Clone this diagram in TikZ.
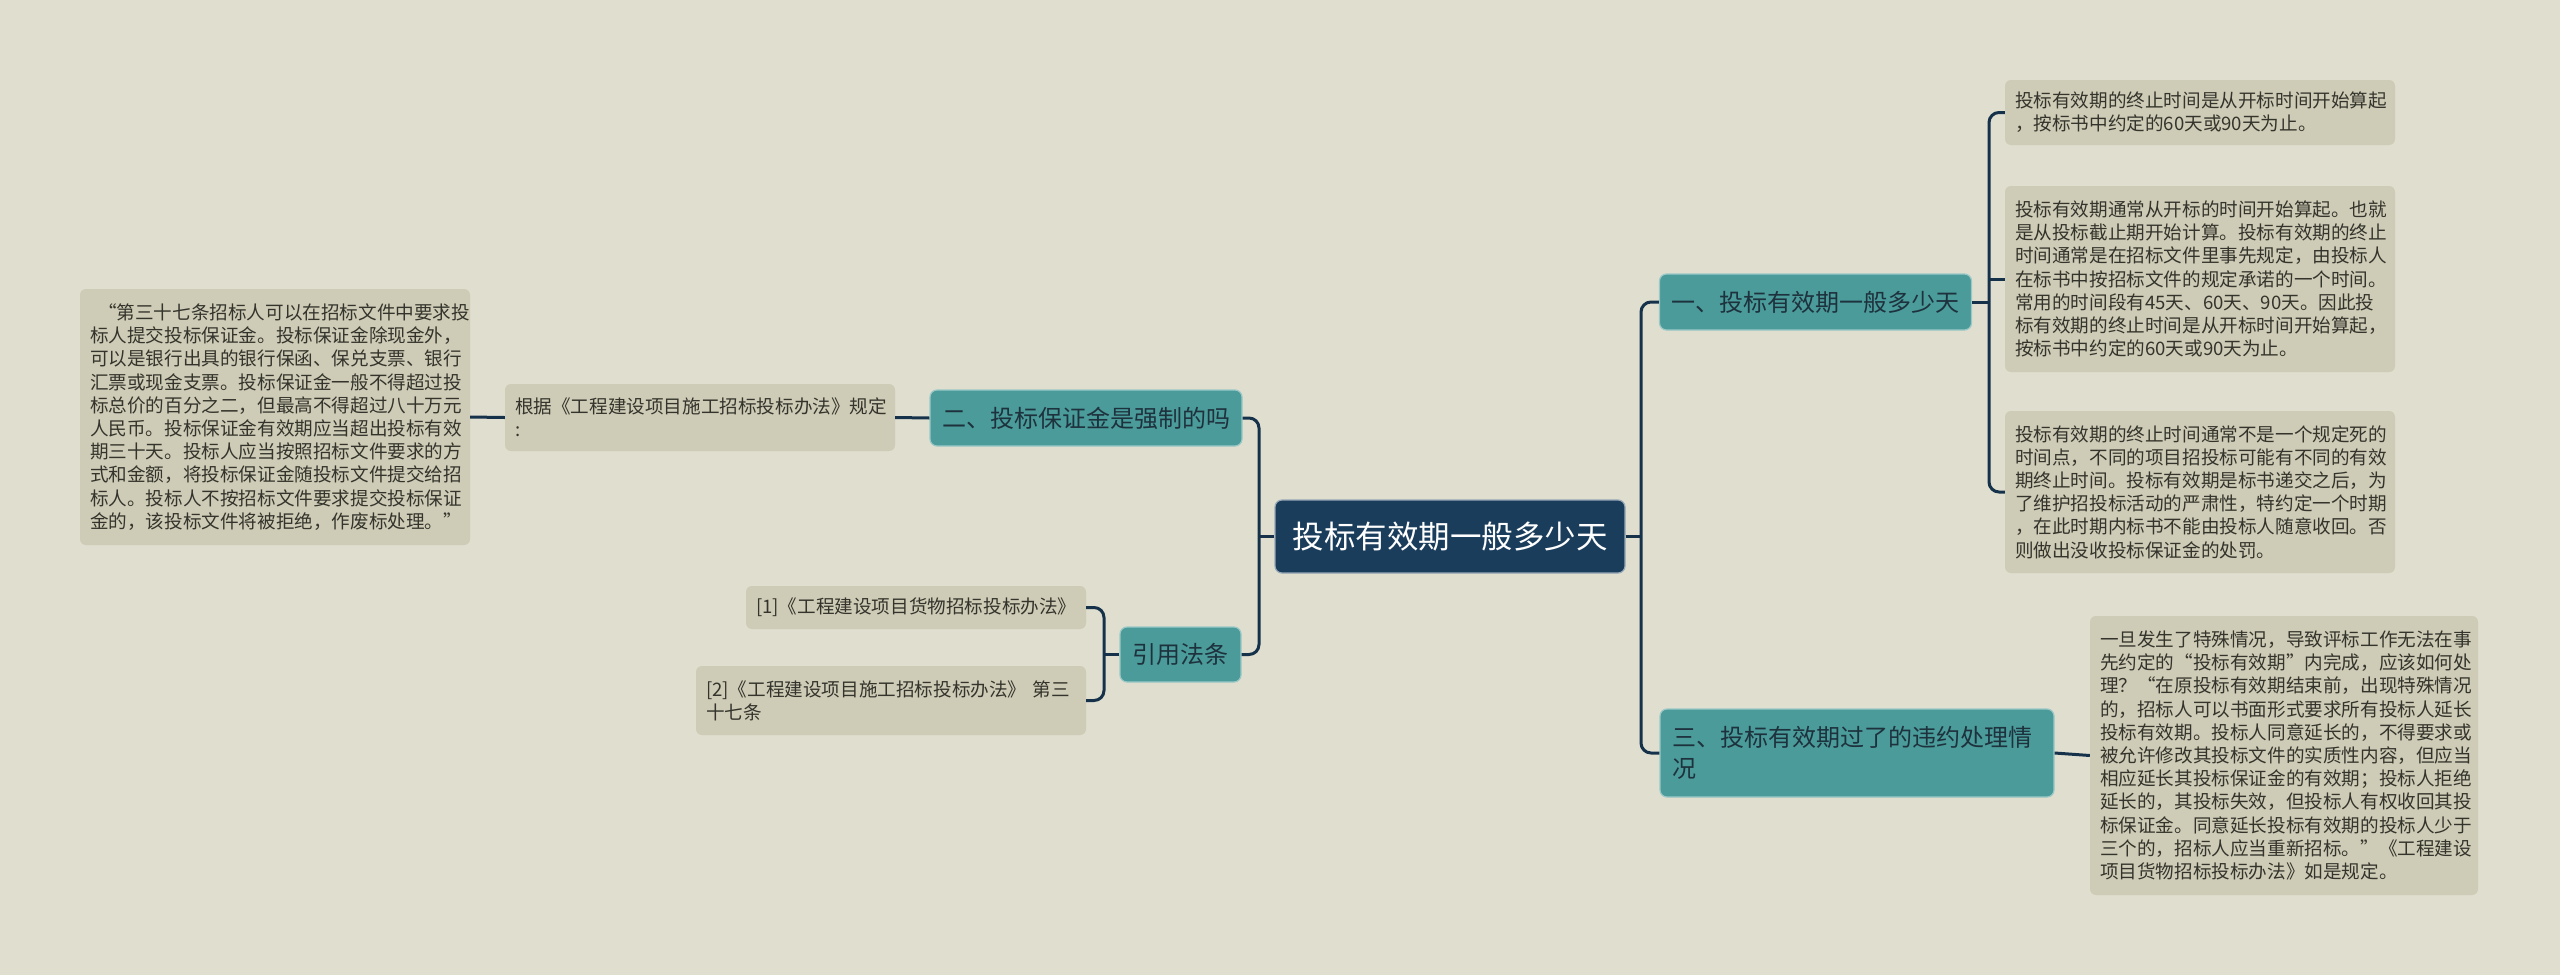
\documentclass[tikz,border=0pt]{standalone}
\usepackage{fontspec}
\setmainfont{Noto Sans CJK SC}
\definecolor{bgc}{RGB}{223,222,207}
\definecolor{leafc}{RGB}{206,204,182}
\definecolor{tealc}{RGB}{74,155,154}
\definecolor{rootc}{RGB}{26,61,92}
\definecolor{linec}{RGB}{22,50,75}
\definecolor{txtc}{RGB}{52,52,44}
\definecolor{btxt}{RGB}{30,50,62}
\tikzset{
  leaf/.style={fill=leafc, rounded corners=6pt, inner xsep=10pt, inner ysep=4pt, align=left, text=txtc, font=\fontsize{18.6}{23.2}\selectfont},
  branch/.style={fill=tealc, draw=tealc!55!white, line width=1.2pt, rounded corners=7pt, inner xsep=12pt, text=btxt, font=\fontsize{24}{31}\selectfont},
  rootnode/.style={fill=rootc, draw=rootc!45!white, line width=1.2pt, rounded corners=7pt, text=white, font=\fontsize{31.5}{36}\selectfont},
  conn/.style={draw=linec, line width=3pt, rounded corners=10pt}
}
\begin{document}
\begin{tikzpicture}[x=1pt,y=-1pt]
\useasboundingbox (0,0) rectangle (2560,975);
\fill[bgc] (0,0) rectangle (2560,975);
% root
\node[rootnode, minimum width=350pt, minimum height=73pt] (C) at (1450,536.5) {投标有效期一般多少天};
% branches
\node[branch, minimum width=311pt, minimum height=56pt] (B1) at (1815.5,302) {一、投标有效期一般多少天};
\node[branch, minimum width=310pt, minimum height=56pt] (B2) at (1086,418) {二、投标保证金是强制的吗};
\node[branch, text width=370pt, minimum height=88pt, align=left] (B3) at (1857,753) {三、投标有效期过了的违约处理情\\况};
\node[branch, minimum width=121pt, minimum height=55pt] (B4) at (1180.5,654.5) {引用法条};
% leaves right
\node[leaf, text width=370pt, minimum height=65pt] (L1) at (2200,112.5) {投标有效期的终止时间是从开标时间开始算起\\，按标书中约定的60天或90天为止。};
\node[leaf, text width=370pt, minimum height=186pt] (L2) at (2200,279) {投标有效期通常从开标的时间开始算起。也就\\是从投标截止期开始计算。投标有效期的终止\\时间通常是在招标文件里事先规定，由投标人\\在标书中按招标文件的规定承诺的一个时间。\\常用的时间段有45天、60天、90天。因此投\\标有效期的终止时间是从开标时间开始算起，\\按标书中约定的60天或90天为止。};
\node[leaf, text width=370pt, minimum height=162pt] (L3) at (2200,492) {投标有效期的终止时间通常不是一个规定死的\\时间点，不同的项目招投标可能有不同的有效\\期终止时间。投标有效期是标书递交之后，为\\了维护招投标活动的严肃性，特约定一个时期\\，在此时期内标书不能由投标人随意收回。否\\则做出没收投标保证金的处罚。};
\node[leaf, text width=368pt, minimum height=279pt] (L4) at (2284,755.5) {一旦发生了特殊情况，导致评标工作无法在事\\先约定的“投标有效期”内完成，应该如何处\\理？“在原投标有效期结束前，出现特殊情况\\的，招标人可以书面形式要求所有投标人延长\\投标有效期。投标人同意延长的，不得要求或\\被允许修改其投标文件的实质性内容，但应当\\相应延长其投标保证金的有效期；投标人拒绝\\延长的，其投标失效，但投标人有权收回其投\\标保证金。同意延长投标有效期的投标人少于\\三个的，招标人应当重新招标。”《工程建设\\项目货物招标投标办法》如是规定。};
% leaves left
\node[leaf, text width=370pt, minimum height=67pt] (Lg) at (700,417.5) {根据《工程建设项目施工招标投标办法》规定\\:};
\node[leaf, text width=370pt, minimum height=256pt] (L0) at (275,417) {\hspace*{8pt}“第三十七条招标人可以在招标文件中要求投\\标人提交投标保证金。投标保证金除现金外，\\可以是银行出具的银行保函、保兑支票、银行\\汇票或现金支票。投标保证金一般不得超过投\\标总价的百分之二，但最高不得超过八十万元\\人民币。投标保证金有效期应当超出投标有效\\期三十天。投标人应当按照招标文件要求的方\\式和金额，将投标保证金随投标文件提交给招\\标人。投标人不按招标文件要求提交投标保证\\金的，该投标文件将被拒绝，作废标处理。”};
\node[leaf, text width=320pt, minimum height=43pt] (R1) at (916,607.5) {[1]《工程建设项目货物招标投标办法》};
\node[leaf, text width=370pt, minimum height=69pt] (R2) at (891,700.5) {[2]《工程建设项目施工招标投标办法》 第三\\十七条};
% junction points
\coordinate (tR) at (1641,536.5);
\coordinate (tL) at (1259,536.5);
\coordinate (t1) at (1989,302);
\coordinate (t4) at (1104,654.5);
% connectors
\draw[conn] (C.east) -- (tR);
\draw[conn] (B1.west) -- (B1.west -| tR) -- (B3.west -| tR) -- (B3.west);
\draw[conn] (C.west) -- (tL);
\draw[conn] (B2.east) -- (B2.east -| tL) -- (B4.east -| tL) -- (B4.east);
\draw[conn] (B2.west) -- (Lg.east);
\draw[conn] (Lg.west) -- (L0.east);
\draw[conn] (B4.west) -- (t4);
\draw[conn] (R1.east) -- (R1.east -| t4) -- (R2.east -| t4) -- (R2.east);
\draw[conn] (B1.east) -- (t1);
\draw[conn] (L1.west) -- (L1.west -| t1) -- (L3.west -| t1) -- (L3.west);
\draw[conn] (L2.west) -- (L2.west -| t1);
\draw[conn] (B3.east) -- (L4.west);
\end{tikzpicture}
\end{document}
